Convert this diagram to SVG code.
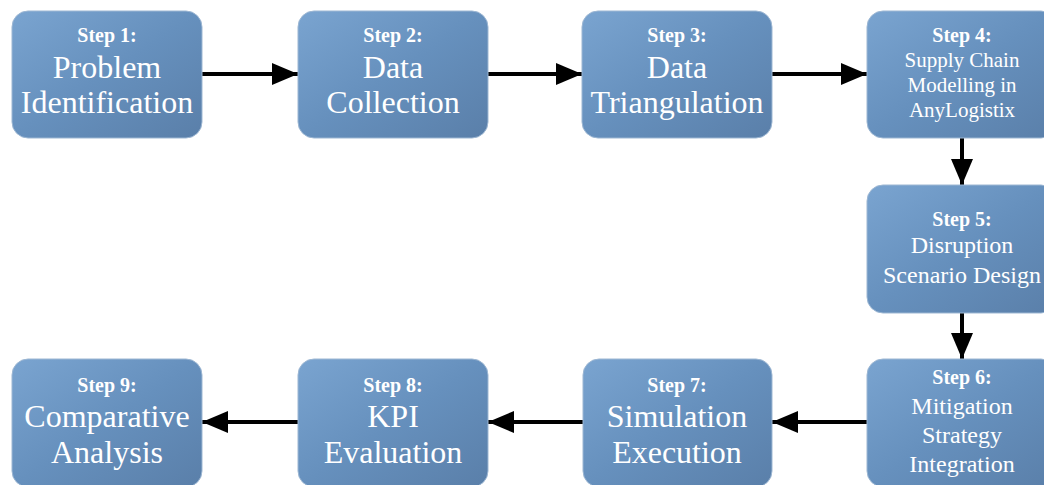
<svg xmlns="http://www.w3.org/2000/svg" width="1044" height="485" viewBox="0 0 1044 485">
<defs>
<linearGradient id="g" x1="0" y1="0" x2="1" y2="1">
<stop offset="0" stop-color="#7aa4d0"/>
<stop offset="0.5" stop-color="#6690bd"/>
<stop offset="1" stop-color="#5a7fa9"/>
</linearGradient>
<marker id="ah" viewBox="0 0 26 22" refX="26" refY="11" markerWidth="26" markerHeight="22" markerUnits="userSpaceOnUse" orient="auto">
<path d="M0,0 L26,11 L0,22 Z" fill="#000"/>
</marker>
<style>
.box{fill:url(#g);stroke:#9db7d3;stroke-width:1}
text{font-family:'Liberation Serif','Times New Roman','DejaVu Serif',serif;fill:#fff;text-anchor:middle}
.s{font-size:20px;font-weight:bold}
.b{font-size:32px}
.m{font-size:21px}
.l{font-size:24px}
.c{stroke:#000;stroke-width:4;fill:none;marker-end:url(#ah)}
</style>
</defs>
<g id="connectors">
<line class="c" x1="202" y1="74" x2="298" y2="74"/>
<line class="c" x1="488" y1="74" x2="582" y2="74"/>
<line class="c" x1="772" y1="74" x2="867" y2="74"/>
<line class="c" x1="962" y1="137" x2="962" y2="185"/>
<line class="c" x1="962" y1="313" x2="962" y2="359"/>
<line class="c" x1="867" y1="422" x2="772" y2="422"/>
<line class="c" x1="583" y1="422" x2="488" y2="422"/>
<line class="c" x1="298" y1="422" x2="202" y2="422"/>
</g>
<g id="step1"><rect class="box" x="12" y="11" width="190" height="127" rx="16"/>
<text class="s" x="107" y="42">Step 1:</text><text class="b" x="107" y="78">Problem</text><text class="b" x="107" y="113">Identification</text></g>
<g id="step2"><rect class="box" x="298" y="11" width="190" height="127" rx="16"/>
<text class="s" x="393" y="42">Step 2:</text><text class="b" x="393" y="78">Data</text><text class="b" x="393" y="113">Collection</text></g>
<g id="step3"><rect class="box" x="582" y="11" width="190" height="127" rx="16"/>
<text class="s" x="677" y="42">Step 3:</text><text class="b" x="677" y="78">Data</text><text class="b" x="677" y="113">Triangulation</text></g>
<g id="step4"><rect class="box" x="867" y="11" width="190" height="127" rx="16"/>
<text class="s" x="962" y="42">Step 4:</text><text class="m" x="962" y="67">Supply Chain</text><text class="m" x="962" y="92">Modelling in</text><text class="m" x="962" y="117">AnyLogistix</text></g>
<g id="step5"><rect class="box" x="867" y="185" width="190" height="128" rx="16"/>
<text class="s" x="962" y="226">Step 5:</text><text class="l" x="962" y="253">Disruption</text><text class="l" x="962" y="283">Scenario Design</text></g>
<g id="step6"><rect class="box" x="867" y="359" width="190" height="128" rx="16"/>
<text class="s" x="962" y="384">Step 6:</text><text class="l" x="962" y="414">Mitigation</text><text class="l" x="962" y="443">Strategy</text><text class="l" x="962" y="472">Integration</text></g>
<g id="step7"><rect class="box" x="583" y="359" width="189" height="128" rx="16"/>
<text class="s" x="677" y="392">Step 7:</text><text class="b" x="677" y="427">Simulation</text><text class="b" x="677" y="463">Execution</text></g>
<g id="step8"><rect class="box" x="298" y="359" width="190" height="128" rx="16"/>
<text class="s" x="393" y="392">Step 8:</text><text class="b" x="393" y="427">KPI</text><text class="b" x="393" y="463">Evaluation</text></g>
<g id="step9"><rect class="box" x="12" y="359" width="190" height="128" rx="16"/>
<text class="s" x="107" y="392">Step 9:</text><text class="b" x="107" y="427">Comparative</text><text class="b" x="107" y="463">Analysis</text></g>
</svg>
